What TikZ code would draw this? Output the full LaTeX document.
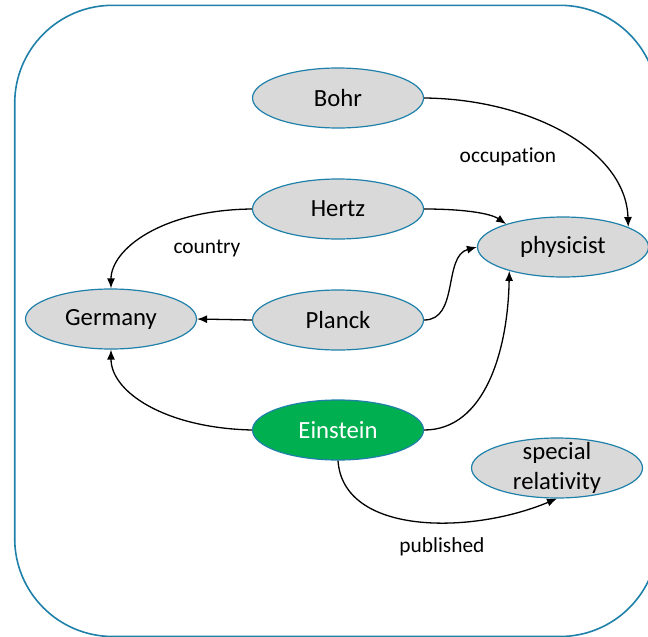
\documentclass[tikz,border=0pt]{standalone}
\usepackage{fontspec}
\setmainfont[Ligatures=NoCommon]{Carlito}
\usetikzlibrary{shapes.geometric,arrows.meta}

\definecolor{frameblue}{RGB}{31,128,170}
\definecolor{nodegrey}{RGB}{217,217,217}
\definecolor{officegreen}{RGB}{0,176,80}

\tikzset{
  entity/.style={ellipse, draw=frameblue, line width=1.2pt, fill=nodegrey,
    minimum width=171pt, minimum height=60pt, inner sep=0pt,
    font=\fontsize{24.7}{30}\selectfont},
  focus/.style={entity, fill=officegreen, text=white},
  rel/.style={line width=1.3pt, -{Latex[length=10pt,width=8pt]}},
  rellabel/.style={font=\fontsize{21.4}{24}\selectfont, inner sep=0pt}
}

\begin{document}
\begin{tikzpicture}[x=1pt,y=-1pt]
  \useasboundingbox (0,0) rectangle (648,637);
  \clip (0,0) rectangle (648,637);

  % outer frame
  \draw[frameblue, line width=1.6pt, rounded corners=98pt]
    (14.7,5.3) rectangle (658,636.5);

  % entities
  \node[entity] (bohr)     at (338,98)  {Bohr};
  \node[entity] (hertz)    at (338,209) {Hertz};
  \node[entity] (planck)   at (338,320) {Planck};
  \node[focus]  (einstein) at (338,430) {Einstein};
  \node[entity] (germany)  at (111,319) {Germany};
  \node[entity] (physicist) at (563,247) {physicist};
  \node[entity, align=center, inner ysep=-14pt] (sr) at (557,468)
    {special\\relativity};

  % relations
  \draw[rel] (bohr.east) .. controls (530,99) and (626,150) .. (physicist.17);
  \draw[rel] (hertz.east) .. controls (462,209) and (490,213) .. (physicist.158);
  \draw[rel] (planck.east) to[out=0,in=195] (physicist.west);
  \draw[rel] (einstein.east) .. controls (485,430) and (508,350) .. (physicist.204);

  \draw[rel] (hertz.west) .. controls (160,210) and (111,250) .. (germany.north);
  \draw[rel] (planck.west) -- (germany.east);
  \draw[rel] (einstein.west) .. controls (165,428) and (111,392) .. (germany.south);

  \draw[rel] (einstein.south) .. controls (343,535) and (470,535) .. (sr.south);

  % relation names
  \node[rellabel] (occ) at (508,157) {occupation};
  \node[rellabel] (cty) at (207,248) {country};
  \node[rellabel] (pub) at (442,547) {published};
\end{tikzpicture}
\end{document}
